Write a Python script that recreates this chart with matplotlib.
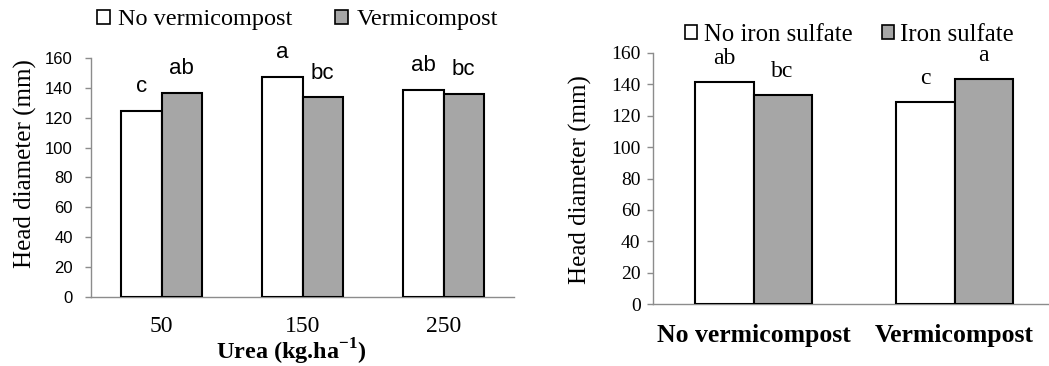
import matplotlib
matplotlib.use("Agg")
import matplotlib.pyplot as plt
from matplotlib.patches import Patch
import numpy as np

plt.rcParams['mathtext.fontset'] = 'custom'
plt.rcParams['mathtext.rm'] = 'Liberation Serif'
plt.rcParams['mathtext.bf'] = 'Liberation Serif:bold'

# ---- Data: left panel ----
urea_levels = ['50', '150', '250']
no_vermi = [124.6, 147.7, 138.7]
vermi = [137.0, 133.8, 136.0]
no_vermi_letters = ['c', 'a', 'ab']
vermi_letters = ['ab', 'bc', 'bc']

# ---- Data: right panel ----
vermi_groups = ['No vermicompost', 'Vermicompost']
no_iron = [141.3, 128.4]
iron = [132.9, 143.5]
no_iron_letters = ['ab', 'c']
iron_letters = ['bc', 'a']

W, H = 1049, 366
fig = plt.figure(figsize=(W / 100, H / 100), dpi=100)

SERIF = 'Liberation Serif'
SANS = 'Liberation Sans'
GREY = '#a6a6a6'
AXC = '#8c8c8c'


def style_axes(ax):
    for s in ['top', 'right']:
        ax.spines[s].set_visible(False)
    ax.spines['left'].set_color(AXC)
    ax.spines['bottom'].set_color(AXC)
    ax.spines['left'].set_linewidth(1.0)
    ax.spines['bottom'].set_linewidth(1.0)
    ax.tick_params(axis='y', color=AXC, length=4, width=1.0, direction='out')
    ax.tick_params(axis='x', length=0)
    ax.set_ylim(0, 160)
    ax.set_yticks(np.arange(0, 161, 20))


# ---------------- Left panel ----------------
axL = fig.add_axes([91 / W, (H - 296.7) / H, 423 / W, 238.4 / H])
style_axes(axL)
x = np.arange(len(urea_levels))
bw = 0.284
bL1 = axL.bar(x - bw / 2, no_vermi, bw, color='white', edgecolor='black', linewidth=1.5, label='No vermicompost', zorder=3)
bL2 = axL.bar(x + bw / 2, vermi, bw, color=GREY, edgecolor='black', linewidth=1.5, label='Vermicompost', zorder=3)
axL.set_xlim(-0.5, len(urea_levels) - 0.5)
axL.set_xticks(x)
axL.set_xticklabels(urea_levels, fontfamily=SERIF, fontsize=17)
axL.tick_params(axis='x', pad=14)
for lab in axL.get_yticklabels():
    lab.set_fontfamily(SANS)
    lab.set_fontsize(12)
axL.tick_params(axis='y', pad=9)
for bars, letters in ((bL1, no_vermi_letters), (bL2, vermi_letters)):
    for b, t in zip(bars, letters):
        axL.annotate(t, (b.get_x() + b.get_width() / 2, b.get_height()),
                     xytext=(0, 13.5), textcoords='offset points',
                     ha='center', va='baseline', fontfamily=SANS, fontsize=16)
axL.set_ylabel('Head diameter (mm)', fontfamily=SERIF, fontsize=18)
axL.yaxis.set_label_coords(-0.128, 0.557)
axL.set_xlabel(r'Urea (kg.ha$^{\mathbf{-1}}$)', fontfamily=SERIF, fontweight='bold', fontsize=17.5)
axL.xaxis.set_label_coords(0.473, -0.168)

legL = fig.legend(handles=[Patch(facecolor='white', edgecolor='black', linewidth=1.2, label='No vermicompost'),
                           Patch(facecolor=GREY, edgecolor='black', linewidth=1.2, label='Vermicompost')],
                  loc='center left', bbox_to_anchor=(97 / W, (H - 20) / H), ncol=2, frameon=False,
                  prop={'family': SERIF, 'size': 17.5}, borderpad=0, borderaxespad=0,
                  handlelength=0.53, handleheight=0.53, handletextpad=0.35, columnspacing=1.75)

# ---------------- Right panel ----------------
axR = fig.add_axes([653 / W, (H - 304.3) / H, 402 / W, 251.6 / H])
style_axes(axR)
x2 = np.arange(len(vermi_groups))
bw2 = 0.289
bR1 = axR.bar(x2 - bw2 / 2, no_iron, bw2, color='white', edgecolor='black', linewidth=1.5, label='No iron sulfate', zorder=3)
bR2 = axR.bar(x2 + bw2 / 2, iron, bw2, color=GREY, edgecolor='black', linewidth=1.5, label='Iron sulfate', zorder=3)
axR.set_xlim(-0.5, len(vermi_groups) - 0.5)
axR.set_xticks(x2)
axR.set_xticklabels(vermi_groups, fontfamily=SERIF, fontweight='bold', fontsize=18.5)
axR.tick_params(axis='x', pad=14)
for lab in axR.get_yticklabels():
    lab.set_fontfamily(SERIF)
    lab.set_fontsize(14)
axR.tick_params(axis='y', pad=5)
for bars, letters in ((bR1, no_iron_letters), (bR2, iron_letters)):
    for b, t in zip(bars, letters):
        axR.annotate(t, (b.get_x() + b.get_width() / 2, b.get_height()),
                     xytext=(0, 13), textcoords='offset points',
                     ha='center', va='baseline', fontfamily=SERIF, fontsize=17)
axR.set_ylabel('Head diameter (mm)', fontfamily=SERIF, fontsize=18)
axR.yaxis.set_label_coords(-0.152, 0.494)

legR = fig.legend(handles=[Patch(facecolor='white', edgecolor='black', linewidth=1.2, label='No iron sulfate'),
                           Patch(facecolor=GREY, edgecolor='black', linewidth=1.2, label='Iron sulfate')],
                  loc='center left', bbox_to_anchor=(685 / W, (H - 35) / H), ncol=2, frameon=False,
                  prop={'family': SERIF, 'size': 17.8}, borderpad=0, borderaxespad=0,
                  handlelength=0.5, handleheight=0.5, handletextpad=0.25, columnspacing=1.2)

fig.savefig('out.png', dpi=100)
